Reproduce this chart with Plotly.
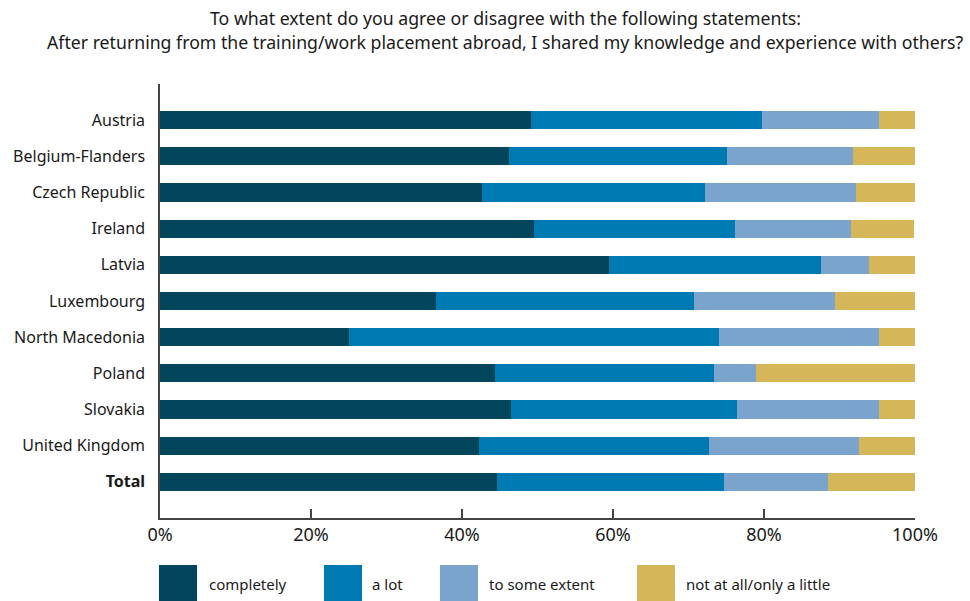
import plotly.graph_objects as go

countries = ["Austria", "Belgium-Flanders", "Czech Republic", "Ireland", "Latvia",
             "Luxembourg", "North Macedonia", "Poland", "Slovakia", "United Kingdom", "Total"]
country_labels = countries[:-1] + ["<b>Total</b>"]

completely = [49.1, 46.2, 42.6, 49.5, 59.5, 36.6, 25.0, 44.4, 46.5, 42.3, 44.6]
a_lot = [30.6, 28.9, 29.6, 26.7, 28.0, 34.1, 49.0, 29.0, 29.9, 30.4, 30.1]
some_extent = [15.5, 16.7, 20.0, 15.3, 6.4, 18.7, 21.2, 5.5, 18.8, 19.9, 13.8]
not_at_all = [4.8, 8.2, 7.8, 8.4, 6.1, 10.6, 4.8, 21.1, 4.8, 7.4, 11.5]

series_names = ["completely", "a lot", "to some extent", "not at all/only a little"]
series_values = [completely, a_lot, some_extent, not_at_all]
series_colors = ["#03465C", "#007AB3", "#7AA4CB", "#D5B658"]

x_ticks = [0, 20, 40, 60, 80, 100]
x_tick_labels = ["0%", "20%", "40%", "60%", "80%", "100%"]

title_lines = ["To what extent do you agree or disagree with the following statements:",
               "After returning from the training/work placement abroad, I shared my knowledge and experience with others?"]

FONT = "Noto Sans"
W, H = 970, 601
L, R, T, B = 160, 55, 84, 83
plot_w = W - L - R
plot_h = H - T - B

fig = go.Figure()
for name, vals, col in zip(series_names, series_values, series_colors):
    fig.add_trace(go.Bar(
        y=countries, x=vals, name=name, orientation="h",
        marker=dict(color=col, line=dict(width=0)),
        showlegend=False,
    ))


def px_x(px):
    return (px - L) / plot_w


def px_y(py):
    return (H - B - py) / plot_h


shapes = []
annotations = []

# Two-line heading
for text, cy in zip(title_lines, [18, 42]):
    annotations.append(dict(xref="paper", yref="paper", x=px_x(505), y=px_y(cy),
                            text=text, showarrow=False, xanchor="center", yanchor="middle",
                            font=dict(family=FONT, size=17.7, color="#1a1a1a")))

# Custom legend: large colour swatches with labels beneath the axis
legend_pos = [(159, 207), (324, 370), (440, 487), (637, 684)]
for (bx, tx), name, col in zip(legend_pos, series_names, series_colors):
    shapes.append(dict(type="rect", xref="paper", yref="paper",
                       x0=px_x(bx), x1=px_x(bx + 38), y0=px_y(601), y1=px_y(565),
                       fillcolor=col, line=dict(width=0), layer="above"))
    annotations.append(dict(xref="paper", yref="paper", x=px_x(tx), y=px_y(584),
                            text=name, showarrow=False, xanchor="left", yanchor="middle",
                            font=dict(family=FONT, size=15, color="#1a1a1a")))

fig.update_layout(
    width=W, height=H,
    margin=dict(l=L, r=R, t=T, b=B),
    paper_bgcolor="white", plot_bgcolor="white",
    barmode="stack", bargap=0.5,
    xaxis=dict(
        range=[0, 100], tickvals=x_ticks, ticktext=x_tick_labels,
        ticks="inside", ticklen=9, tickcolor="#444", tickwidth=1.5,
        showline=True, linecolor="#444", linewidth=1.5,
        showgrid=False, zeroline=False,
        tickfont=dict(family=FONT, size=18, color="#1a1a1a"),
    ),
    yaxis=dict(
        type="category", categoryorder="array", categoryarray=countries,
        tickvals=countries, ticktext=country_labels,
        range=[10.999, -1], showline=True, linecolor="#444", linewidth=1.5,
        showgrid=False, zeroline=False, ticks="", ticklabelstandoff=10,
        tickfont=dict(family=FONT, size=16, color="#1a1a1a"),
    ),
    shapes=shapes,
    annotations=annotations,
)

fig.write_html("out.html")
